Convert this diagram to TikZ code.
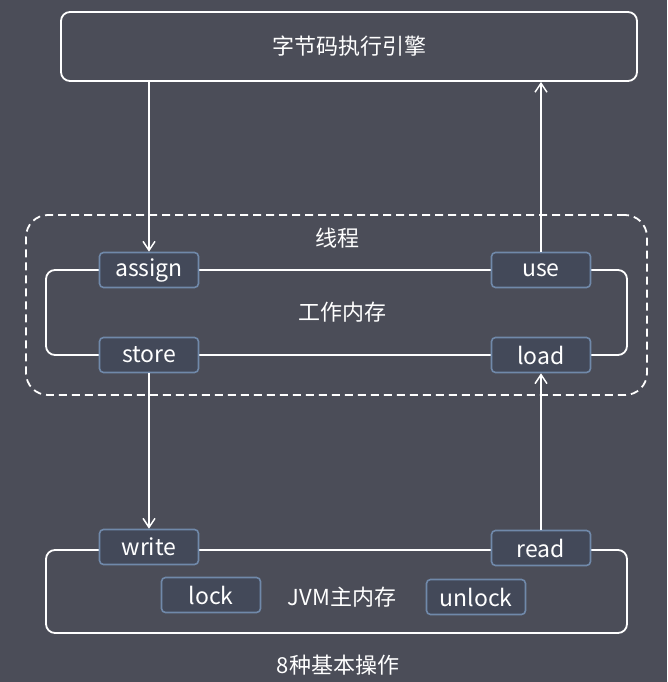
\documentclass[tikz,border=0pt]{standalone}
\usepackage{fontspec}
\setmainfont{Noto Sans CJK SC}
\usepackage{xcolor}
\usepackage{tikz}
\usetikzlibrary{positioning, arrows.meta}

\definecolor{bgcol}{HTML}{4B4D58}
\definecolor{opfill}{HTML}{434959}
\definecolor{opline}{HTML}{7089AA}

\tikzset{
    area/.style={draw=white, line width=1.8pt, rounded corners=9pt, inner sep=0pt},
    op/.style={draw=opline, fill=opfill, line width=1.6pt, rounded corners=4pt,
        minimum width=99pt, minimum height=35pt, inner sep=0pt,
        font=\fontsize{23}{26}\selectfont},
    flow/.style={draw=white, line width=1.5pt, -{Straight Barb[length=9pt,width=12pt,line width=1.5pt]}}
}

\begin{document}
\begin{tikzpicture}[x=1pt, y=-1pt, every node/.style={font=\fontsize{22}{26}\selectfont, text=white}]
    \fill[bgcol] (0,0) rectangle (667,682);
    \useasboundingbox (0,0) rectangle (667,682);

    % engine and the two memories
    \node[area, minimum width=576pt, minimum height=69pt] (engine) at (349,46.5) {字节码执行引擎};
    \node[draw=white, line width=1.8pt, dash pattern=on 8pt off 5pt, rounded corners=22pt,
        minimum width=621pt, minimum height=180pt] (thread) at (336.5,305) {};
    \node (threadlbl) at (337,238) {线程};
    \node[area, minimum width=581pt, minimum height=85pt] (workmem) at (336.5,312.5) {};
    \node (worklbl) at (342,312) {工作内存};
    \node[area, minimum width=581pt, minimum height=83pt] (mainmem) at (336.5,591.5) {};
    \node (mainlbl) at (342,597) {JVM主内存};
    \node (opslbl) at (338,665) {8种基本操作};

    % the eight operations
    \foreach \n/\x/\y in {assign/149/270, use/541/270, store/149/355, load/541/355,
                          write/149/547, read/541/548, lock/211/595, unlock/476/597} {
        \node[op] (\n) at (\x,\y) {\n};
    }

    \draw[flow] (engine.south -| assign) -- (assign.north);
    \draw[flow] (use.north) -- (engine.south -| use);
    \draw[flow] (store.south) -- (write.north);
    \draw[flow] (read.north) -- (load.south);
\end{tikzpicture}
\end{document}
